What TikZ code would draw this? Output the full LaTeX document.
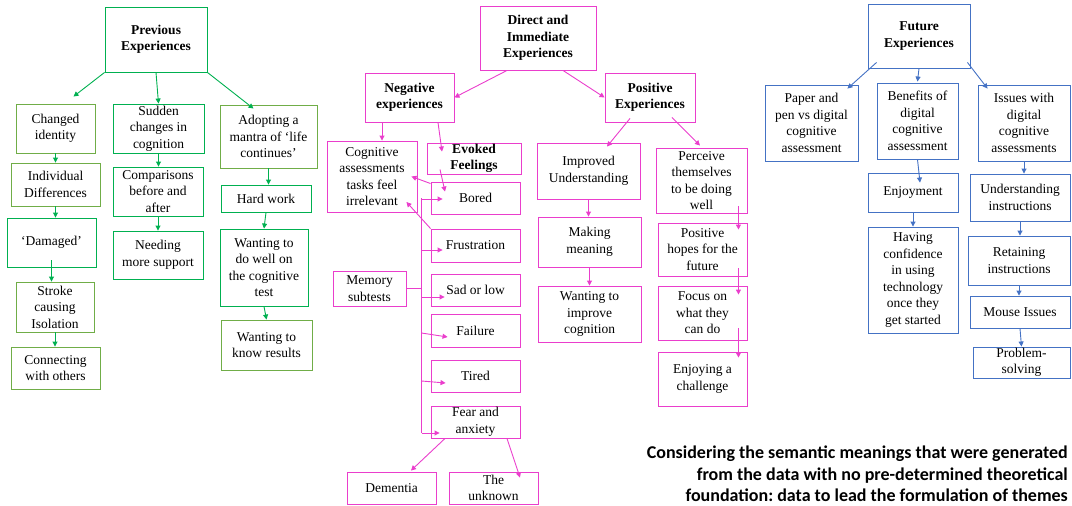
\documentclass[tikz,border=0pt]{standalone}
\usepackage{fontspec}
\setmainfont{Liberation Serif}
\newfontfamily\boxfont{Liberation Serif}
\newfontfamily\notefont{Carlito}
\usetikzlibrary{arrows.meta}

\definecolor{pegreen}{RGB}{0,176,80}
\definecolor{pelight}{RGB}{112,173,71}
\definecolor{pemag}{RGB}{234,62,204}
\definecolor{peblue}{RGB}{68,114,196}

\tikzset{
    theme/.style={draw, align=center, inner sep=0pt, line width=0.9pt,
        font=\boxfont\fontsize{13.5}{16.5}\selectfont},
    gbox/.style={theme, draw=pegreen},
    lbox/.style={theme, draw=pelight},
    mbox/.style={theme, draw=pemag},
    bbox/.style={theme, draw=peblue},
    wh/.style 2 args={minimum width=#1pt, minimum height=#2pt},
    link/.style={->, line width=0.9pt, >={Triangle[length=5pt,width=5pt]}},
}

\begin{document}
\begin{tikzpicture}[x=1pt, y=-1pt]
    \useasboundingbox (0,0) rectangle (1072,506);

    % previous experiences
    \node[gbox, wh={102}{65}] (prev) at (156,39.5) {\textbf{Previous}\\\textbf{Experiences}};
    \node[lbox, wh={79}{49}] (changed) at (55.5,128.5) {Changed\\identity};
    \node[lbox, wh={89}{43}] (indiv) at (55.5,184.5) {Individual\\Differences};
    \node[gbox, wh={89}{49}] (damaged) at (51.5,242.5) {‘Damaged’};
    \node[lbox, wh={78}{50}] (stroke) at (55,307) {Stroke\\causing\\Isolation};
    \node[lbox, wh={89}{42}] (connect) at (55.5,368) {Connecting\\with others};
    \node[gbox, wh={91}{49}] (sudden) at (158.5,128.5) {Sudden\\changes in\\cognition};
    \node[gbox, wh={90}{49}] (compar) at (158,191.5) {Comparisons\\before and\\after};
    \node[gbox, wh={90}{48}] (needing) at (158,255) {Needing\\more support};
    \node[lbox, wh={97}{63}] (adopting) at (268.5,136.5) {Adopting a\\mantra of ‘life\\continues’};
    \node[gbox, wh={90}{27}] (hardwork) at (266,198.5) {Hard work};
    \node[gbox, wh={88}{77}] (wantwell) at (264,267.5) {Wanting to\\do well on\\the cognitive\\test};
    \node[lbox, wh={91}{50}] (wantknow) at (266.5,345) {Wanting to\\know results};

    \draw[link, pegreen] (prev.south west) -- ([xshift=18pt,yshift=7pt]changed.north);
    \draw[link, pegreen] (prev.south) -- (sudden.north);
    \draw[link, pegreen] (prev.south east) -- ([xshift=-15pt,yshift=-4pt]adopting.north);
    \draw[link, pegreen] (changed.south) -- (changed.south |- indiv.north);
    \draw[link, pegreen] (indiv.south) -- (indiv.south |- damaged.north);
    \draw[link, pegreen] ([yshift=7pt]damaged.south) -- (damaged.south |- stroke.north);
    \draw[link, pegreen] (stroke.south) -- (stroke.south |- connect.north);
    \draw[link, pegreen] (sudden.south) -- (sudden.south |- compar.north);
    \draw[link, pegreen] (compar.south) -- (needing.north);
    \draw[link, pegreen] (adopting.south) -- (adopting.south |- hardwork.north);
    \draw[link, pegreen] (hardwork.south) -- (wantwell.north);
    \draw[link, pegreen] (wantwell.south) -- (wantknow.north);

    % direct and immediate experiences
    \node[mbox, wh={116}{64}] (direct) at (538,38) {\textbf{Direct and}\\\textbf{Immediate}\\\textbf{Experiences}};
    \node[mbox, wh={89}{49}] (neg) at (409.5,97.5) {\textbf{Negative}\\\textbf{experiences}};
    \node[mbox, wh={90}{49}] (pos) at (650,97.5) {\textbf{Positive}\\\textbf{Experiences}};
    \node[mbox, wh={90}{71}] (cogirr) at (372,176.5) {Cognitive\\assessments\\tasks feel\\irrelevant};
    \node[mbox, wh={94}{31}] (evoked) at (474,158.5) {\textbf{Evoked}\\\textbf{Feelings}};
    \node[mbox, wh={89}{32}] (bored) at (475.5,198) {Bored};
    \node[mbox, wh={89}{33}] (frust) at (475.5,245.5) {Frustration};
    \node[mbox, wh={89}{32}] (sad) at (475.5,290) {Sad or low};
    \node[mbox, wh={89}{33}] (failure) at (475.5,330.5) {Failure};
    \node[mbox, wh={89}{32}] (tired) at (475.5,376) {Tired};
    \node[mbox, wh={89}{32}] (fear) at (475.5,422) {Fear and\\anxiety};
    \node[mbox, wh={73}{35}] (memory) at (369.5,288.5) {Memory\\subtests};
    \node[mbox, wh={89}{32}] (dementia) at (391.5,488) {Dementia};
    \node[mbox, wh={89}{32}] (unknown) at (493.5,488) {The\\unknown};
    \node[mbox, wh={103}{56}] (improved) at (588.5,171) {Improved\\Understanding};
    \node[mbox, wh={103}{50}] (making) at (589.5,242) {Making\\meaning};
    \node[mbox, wh={103}{56}] (wantimp) at (589.5,314) {Wanting to\\improve\\cognition};
    \node[mbox, wh={91}{65}] (perceive) at (701.5,180.5) {Perceive\\themselves\\to be doing\\well};
    \node[mbox, wh={89}{53}] (hopes) at (702.5,249.5) {Positive\\hopes for the\\future};
    \node[mbox, wh={89}{54}] (focus) at (702.5,313) {Focus on\\what they\\can do};
    \node[mbox, wh={89}{54}] (enjoychal) at (702.5,379) {Enjoying a\\challenge};
    \coordinate (spine) at ([xshift=-9pt]bored.west);

    \draw[link, pemag] ([xshift=-31pt]direct.south) -- (neg.east);
    \draw[link, pemag] ([xshift=25pt]direct.south) -- (pos.west);
    \draw[link, pemag] ([xshift=10pt]cogirr.north |- neg.south) -- ([xshift=10pt]cogirr.north);
    \draw[link, pemag] ([xshift=28.5pt]neg.south) -- ([xshift=-32pt,yshift=-9pt]evoked.north);
    \draw[link, pemag] ([xshift=-34pt,yshift=5pt]evoked.south) -- ([xshift=-30.5pt,yshift=-10pt]bored.north);
    \draw[link, pemag] ([yshift=-2pt]bored.north west) -- ([xshift=-6pt]cogirr.east);
    \draw[link, pemag] (frust.north west) -- ([xshift=-11pt,yshift=-25.5pt]cogirr.east);
    \draw[line width=0.9pt, pemag] (spine) -- ([yshift=-11pt]spine |- fear.west);
    \draw[line width=0.9pt, pemag] (memory.east) -- (spine |- memory.east);
    \draw[link, pemag] ([yshift=-1pt]spine) -- ([xshift=12pt,yshift=-1pt]bored.west);
    \draw[link, pemag] ([yshift=-4.5pt]spine |- frust.west) -- ([xshift=12pt,yshift=-4.5pt]frust.west);
    \draw[link, pemag] ([yshift=-7pt]spine |- sad.west) -- ([xshift=14pt,yshift=-7pt]sad.west);
    \draw[link, pemag] ([yshift=-2.5pt]spine |- failure.west) -- ([xshift=17pt,yshift=-6.5pt]failure.west);
    \draw[link, pemag] ([yshift=-5pt]spine |- tired.west) -- ([xshift=15pt,yshift=-7pt]tired.west);
    \draw[link, pemag] ([yshift=-11pt]spine |- fear.west) -- ([xshift=9pt,yshift=-11pt]fear.west);
    \draw[link, pemag] ([xshift=-30.5pt]fear.south) -- ([xshift=19.5pt,yshift=1pt]dementia.north);
    \draw[link, pemag] ([xshift=31.5pt]fear.south) -- ([xshift=26.5pt,yshift=-6pt]unknown.north);
    \draw[link, pemag] ([xshift=-20pt,yshift=4pt]pos.south) -- ([xshift=18.5pt,yshift=-4pt]improved.north);
    \draw[link, pemag] ([xshift=22pt,yshift=5pt]pos.south) -- ([xshift=-1.5pt,yshift=2pt]perceive.north);
    \draw[link, pemag] (improved.south) -- (improved.south |- making.north);
    \draw[link, pemag] (making.south) -- (wantimp.north);
    \draw[link, pemag] ([xshift=-9pt,yshift=7pt]perceive.south east) -- ([xshift=-9pt,yshift=-7pt]hopes.north east);
    \draw[link, pemag] ([xshift=-9pt,yshift=8pt]hopes.south east) -- ([xshift=-9pt,yshift=-9pt]focus.north east);
    \draw[link, pemag] ([xshift=-9pt,yshift=12pt]focus.south east) -- ([xshift=-9pt,yshift=-6pt]enjoychal.north east);

    % future experiences
    \node[bbox, wh={102}{64}] (future) at (919,36) {\textbf{Future}\\\textbf{Experiences}};
    \node[bbox, wh={93}{76}] (paper) at (811.5,123) {Paper and\\pen vs digital\\cognitive\\assessment};
    \node[bbox, wh={81}{76}] (benefits) at (917.5,121) {Benefits of\\digital\\cognitive\\assessment};
    \node[bbox, wh={92}{76}] (issues) at (1024,123) {Issues with\\digital\\cognitive\\assessments};
    \node[bbox, wh={90}{39}] (enjoyment) at (913,192.5) {Enjoyment};
    \node[bbox, wh={90}{106}] (confidence) at (913,280) {Having\\confidence\\in using\\technology\\once they\\get started};
    \node[bbox, wh={100}{47}] (understand) at (1020,197.5) {Understanding\\instructions};
    \node[bbox, wh={102}{49}] (retain) at (1019,260.5) {Retaining\\instructions};
    \node[bbox, wh={100}{32}] (mouse) at (1020,312) {Mouse Issues};
    \node[bbox, wh={97}{31}] (problem) at (1021.5,362.5) {Problem-\\solving};

    \draw[link, peblue] ([xshift=9pt,yshift=6pt]future.south west) -- ([xshift=-11pt,yshift=-4pt]paper.north east);
    \draw[link, peblue] (future.south) -- ([yshift=1pt]benefits.north);
    \draw[link, peblue] ([xshift=-3pt,yshift=6pt]future.south east) -- ([xshift=10pt,yshift=-4pt]issues.north west);
    \draw[link, peblue] (benefits.south) -- ([xshift=7pt,yshift=-10pt]enjoyment.north);
    \draw[link, peblue] (enjoyment.south) -- (confidence.north);
    \draw[link, peblue] (issues.south) -- (issues.south |- understand.north);
    \draw[link, peblue] (understand.south) -- (understand.south |- retain.north);
    \draw[link, peblue] (retain.south) -- (retain.south |- mouse.north);
    \draw[link, peblue] (mouse.south) -- (problem.north);

    \node[anchor=east, align=right, inner sep=0pt, font=\notefont\bfseries\fontsize{18}{21.5}\selectfont\frenchspacing] (note) at (1068,474)
        {Considering the semantic meanings that were generated\\from the data with no pre-determined theoretical\\foundation: data to lead the formulation of themes};
\end{tikzpicture}
\end{document}
